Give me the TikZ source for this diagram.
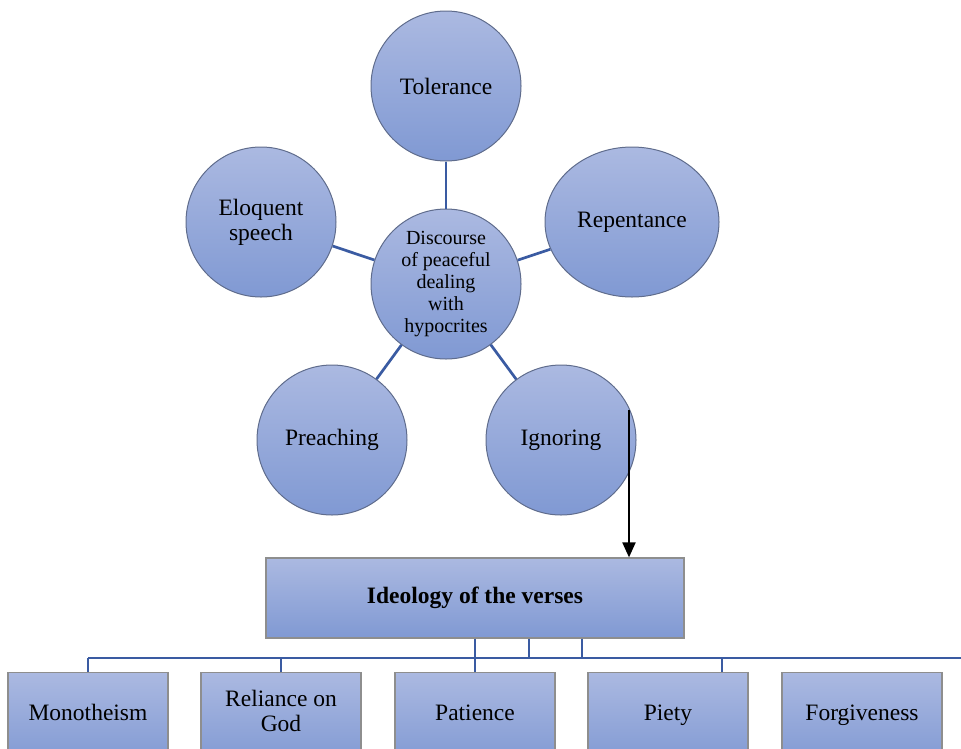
\documentclass[tikz,border=0pt]{standalone}
\usepackage{fontspec}
\setmainfont{Liberation Serif}
\usetikzlibrary{arrows.meta,shapes.geometric}
\definecolor{ftop}{HTML}{ABB9E1}
\definecolor{fbot}{HTML}{8099D3}
\definecolor{cborder}{HTML}{5F6C8C}
\definecolor{bborder}{HTML}{8E8E8E}
\definecolor{linkc}{HTML}{3A5BA2}
\tikzset{
  bubble/.style={circle, draw=cborder, line width=1pt, top color=ftop, bottom color=fbot,
    minimum size=150pt, inner sep=0pt, align=center, font=\fontsize{23.5}{25}\selectfont},
  oval/.style={ellipse, draw=cborder, line width=1pt, top color=ftop, bottom color=fbot,
    minimum width=174pt, minimum height=150pt, inner sep=0pt, align=center, font=\fontsize{23.5}{25}\selectfont},
  box/.style={rectangle, draw=bborder, line width=1.2pt, top color=ftop, bottom color=fbot,
    inner sep=0pt, align=center},
  link/.style={draw=linkc, line width=2.7pt},
  leaftext/.style={font=\fontsize{23.5}{24.5}\selectfont, align=center, anchor=base},
}
\begin{document}
\begin{tikzpicture}[x=1pt,y=-1pt]
\useasboundingbox (0,0) rectangle (961,748);
\clip (0,0) rectangle (961,748);
% circles
\node[bubble, font=\fontsize{20}{22}\selectfont] (cen) at (446,284) {Discourse\\of peaceful\\dealing\\with\\hypocrites};
\node[bubble] (tol) at (446,86) {Tolerance};
\node[bubble] (elo) at (261,222) {Eloquent\\speech};
\node[oval] (rep) at (632,222) {Repentance};
\node[bubble] (pre) at (332,440) {Preaching};
\node[bubble] (ign) at (561,440) {Ignoring};
\draw[link] (tol) -- (cen);
\draw[link] (elo) -- (cen);
\draw[link] (rep) -- (cen);
\draw[link] (pre) -- (cen);
\draw[link] (ign) -- (cen);
% main box
\node[box, minimum width=418pt, minimum height=80pt, font=\fontsize{23.5}{25}\selectfont\bfseries] (ideo) at (475,598) {Ideology of the verses};
% arrow
\coordinate (astart) at (629,410);
\draw[line width=2pt, -{Triangle[width=13pt,length=15pt]}] (astart) -- (astart |- ideo.north);
% bottom boxes
\tikzset{leaf/.style={box, minimum width=160pt, minimum height=92pt, anchor=north}}
\node[leaf] (mono) at (88,672) {};
\node[leaf] (reli) at (281,672) {};
\node[leaf] (pati) at (475,672) {};
\node[leaf] (piet) at (668,672) {};
\node[leaf] (forg) at (862,672) {};
\node[leaftext] (tmono) at (88,720) {Monotheism};
\node[leaftext, anchor=center] (treli) at (281,711) {Reliance on\\God};
\node[leaftext] (tpati) at (475,720) {Patience};
\node[leaftext] (tpiet) at (668,720) {Piety};
\node[leaftext] (tforg) at (862,720) {Forgiveness};
% connectors
\coordinate (busL) at (88,658);
\coordinate (busR) at (965,658);
\draw[link] (busL) -- (busR);
\draw[link] (ideo.south) -- (ideo.south |- busL);
\draw[link] ([xshift=54pt]ideo.south) -- ([xshift=54pt]ideo.south |- busL);
\draw[link] ([xshift=107pt]ideo.south) -- ([xshift=107pt]ideo.south |- busL);
\draw[link] (mono.north |- busL) -- (mono.north);
\draw[link] (reli.north |- busL) -- (reli.north);
\draw[link] (pati.north |- busL) -- (pati.north);
\draw[link] ([xshift=54pt]piet.north |- busL) -- ([xshift=54pt]piet.north);
\end{tikzpicture}
\end{document}
